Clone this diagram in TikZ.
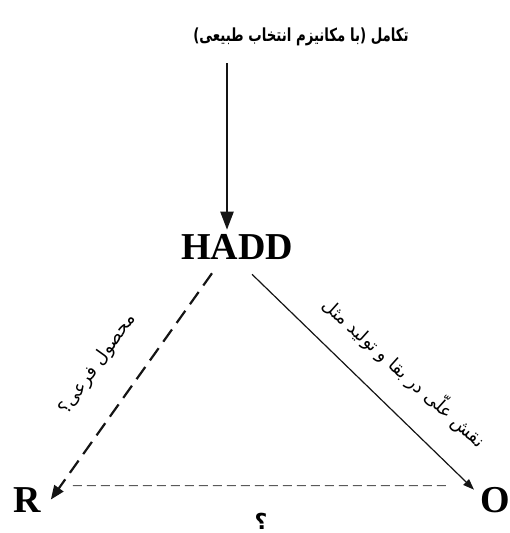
\documentclass[tikz,border=0pt]{standalone}
\usepackage{fontspec}
\usepackage{graphicx}
\setmainfont{Liberation Serif}
\newfontfamily\arabicfont[Script=Arabic]{DejaVu Sans}
\TeXXeTstate=1
\usetikzlibrary{arrows.meta, positioning}
\definecolor{mydark}{RGB}{20,20,20}
\definecolor{mygray}{RGB}{90,90,90}
\tikzset{
  term/.style={font=\bfseries\fontsize{38}{38}\selectfont, inner sep=0pt, anchor=base},
  evotitle/.style={font=\arabicfont\bfseries\fontsize{18}{20}\selectfont, inner sep=0pt, anchor=base},
  edgelabel/.style={font=\arabicfont\fontsize{18}{20}\selectfont, inner sep=0pt},
  mainarrow/.style={-{Triangle[length=18pt,width=13pt]}, line width=2.2pt, color=mydark},
  byarrow/.style={-{Triangle[length=14pt,width=11pt]}, line width=2.2pt, dash pattern=on 15pt off 8pt, color=mydark},
  rolearrow/.style={-{Triangle[length=11pt,width=8pt]}, line width=1.2pt, color=mydark},
  rodash/.style={line width=1pt, dash pattern=on 9pt off 5pt, color=mygray}
}
\begin{document}
\begin{tikzpicture}[x=1pt,y=-1pt]
  \useasboundingbox (0,0) rectangle (510,533);
  % terms
  \node[evotitle] (evo) at (301,41) {\scalebox{0.74}[1]{\beginR تکامل (با مکانیزم انتخاب طبیعی)\endR}};
  \node[term] (hadd) at (237,259) {HADD};
  \node[term, anchor=base west] (rr) at (13,512) {R};
  \node[term, anchor=base west] (oo) at (480,512) {O};
  \coordinate (evostart) at (227,63);
  % connectors
  \draw[mainarrow, shorten >=4pt] (evostart) -- (evostart |- hadd.north);
  \draw[byarrow] ([xshift=-25pt,yshift=-14pt]hadd.south) -- ([xshift=10pt]rr.east);
  \draw[rolearrow] ([xshift=15pt,yshift=-15pt]hadd.south) -- ([xshift=-6pt,yshift=-3pt]oo.north west);
  \draw[rodash, shorten <=32pt, shorten >=33pt] ([yshift=14pt]rr.east) -- ([yshift=14pt]oo.west);
  % labels
  \node[edgelabel, rotate=54.5] (bylabel) at (98,364) {\beginR محصول فرعی؟\endR};
  \node[edgelabel, rotate=-42] (rolelabel) at (405,372) {\beginR نقش علّی در بقا و تولید مثل\endR};
  \node[evotitle, font=\arabicfont\bfseries\fontsize{22}{22}\selectfont] (qmark) at (261,529) {\beginR ؟\endR};
\end{tikzpicture}
\end{document}
